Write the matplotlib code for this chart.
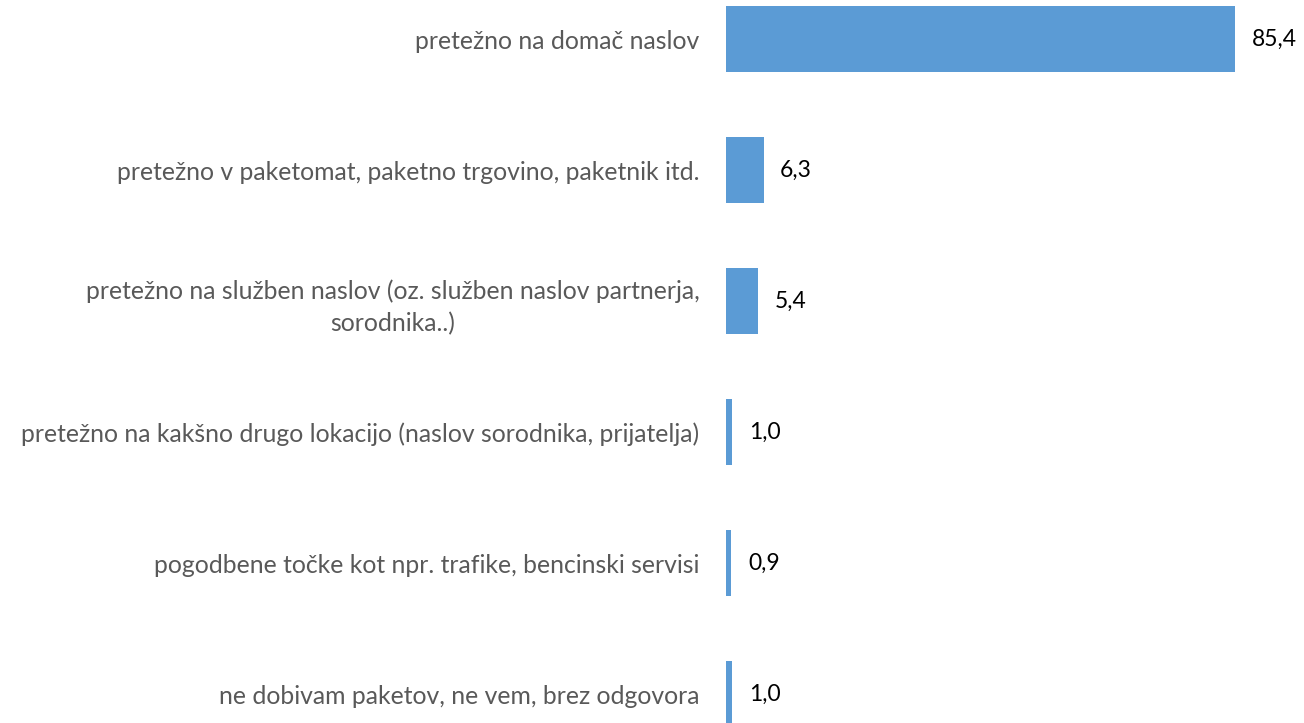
import matplotlib
matplotlib.use('Agg')
import matplotlib.pyplot as plt

categories = [
    'pretežno na domač naslov',
    'pretežno v paketomat, paketno trgovino, paketnik itd.',
    'pretežno na služben naslov (oz. služben naslov partnerja,\nsorodnika..)',
    'pretežno na kakšno drugo lokacijo (naslov sorodnika, prijatelja)',
    'pogodbene točke kot npr. trafike, bencinski servisi',
    'ne dobivam paketov, ne vem, brez odgovora',
]
values = [85.4, 6.3, 5.4, 1.0, 0.9, 1.0]
value_labels = ['85,4', '6,3', '5,4', '1,0', '0,9', '1,0']

plt.rcParams['font.family'] = ['Lato', 'DejaVu Sans']

fig = plt.figure(figsize=(13.04, 7.23), dpi=100)
ax = fig.add_axes([726 / 1304, 0, 1 - 726 / 1304, 1])
pos = list(range(len(categories)))
ax.barh(pos, values, height=0.5, color='#5B9BD5')
ax.set_ylim(5.221, -0.298)
ax.set_xlim(0, 578 / 5.96)

for p, v, lab in zip(pos, values, value_labels):
    ax.annotate(lab, (v, p), xytext=(12, 0), textcoords='offset points',
                ha='left', va='center', fontsize=16.5, color='black')

ax.set_yticks(pos)
ax.set_yticklabels(categories, fontsize=17.8, color='#595959',
                   multialignment='center', linespacing=1.45)
ax.tick_params(axis='y', length=0, pad=19)
ax.set_xticks([])
for s in ax.spines.values():
    s.set_visible(False)

fig.savefig('out.png', dpi=100)
